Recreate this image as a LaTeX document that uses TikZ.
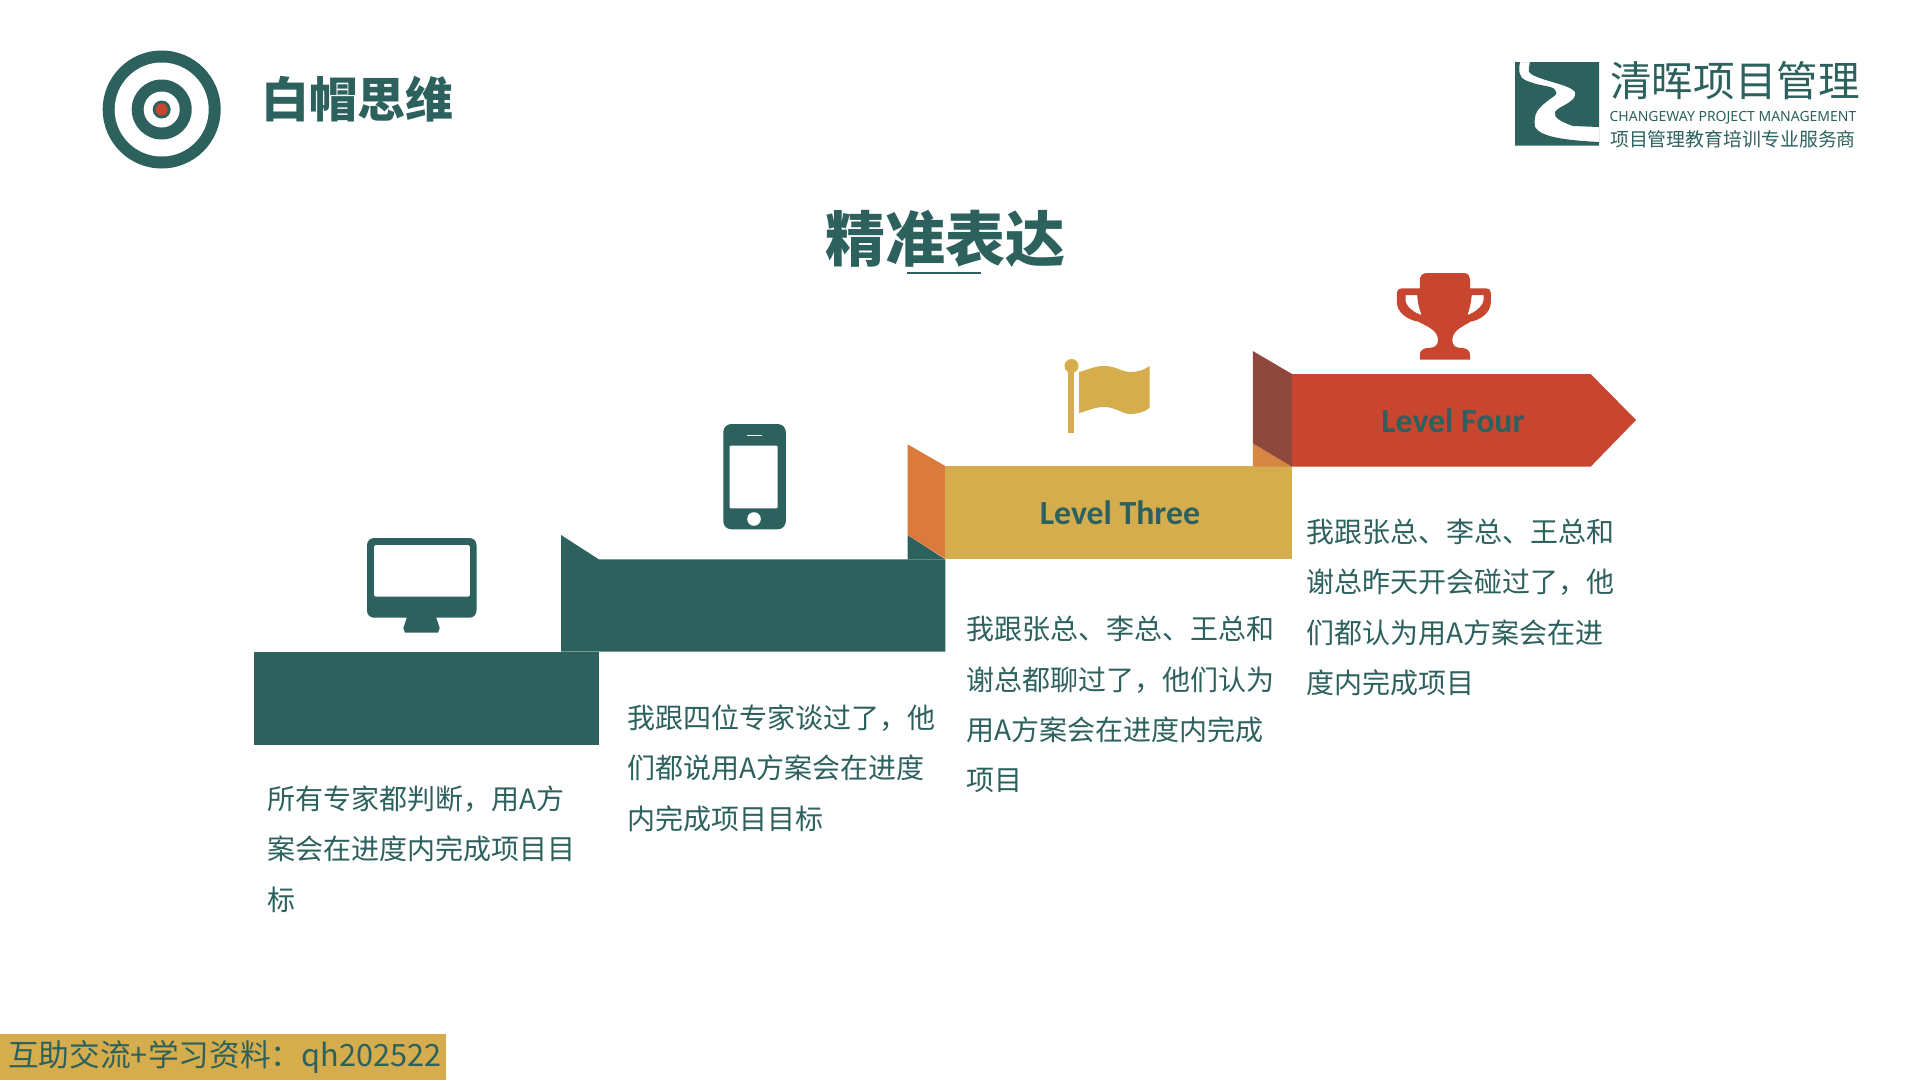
\documentclass[tikz,border=0pt]{standalone}
\usepackage{fontspec}
\usepackage{xcolor}
\usepackage{tikz}
\setmainfont{Noto Sans CJK SC}
\newfontfamily\levelfont{Carlito}
\newfontfamily\logofont{Noto Sans}
\definecolor{stepteal}{RGB}{44, 97, 94}
\definecolor{stepgold}{RGB}{214, 173, 76}
\definecolor{stepred}{RGB}{200, 69, 47}
\definecolor{flaporange}{RGB}{218, 122, 60}
\definecolor{flapdark}{RGB}{142, 72, 60}
\definecolor{flapamber}{RGB}{215, 135, 65}
\tikzset{
    bodytext/.style={anchor=north west, inner sep=0pt, align=left, text=stepteal, font=\fontsize{28}{50.4}\selectfont},
    leveltext/.style={text=stepteal, inner sep=0pt, font=\levelfont\bfseries\fontsize{33.8}{36}\selectfont}
}

\begin{document}
\begin{tikzpicture}[x=1pt, y=-1pt]
    \useasboundingbox (0,0) rectangle (1920,1080);
    \fill[white] (0,0) rectangle (1920,1080);

    % Target
    \fill[stepteal] (161.7,109.5) circle (59);
    \fill[white] (161.7,109.5) circle (47);
    \fill[stepteal] (161.7,109.5) circle (30);
    \fill[white] (161.7,109.5) circle (18);
    \fill[stepteal] (161.7,109.5) circle (9);
    \fill[stepred] (161.7,109.5) circle (6);
    \node[text=stepteal, font=\bfseries\fontsize{48}{50}\selectfont, inner sep=0pt] (brand) at (357,99) {白帽思维};

    % Company logo
    \fill[stepteal, even odd rule] (1515,62) rectangle (1599,145.7)
        (1520,62) .. controls (1518,72) and (1520,78) .. (1525,80)
        .. controls (1540,87) and (1552,85) .. (1555,90)
        .. controls (1558,94) and (1556,95) .. (1550,99)
        .. controls (1538,108) and (1533,113) .. (1535,127)
        .. controls (1540,136) and (1560,140) .. (1599,142)
        -- (1599,127) -- (1573,126)
        .. controls (1562,122) and (1553,118) .. (1555,112)
        .. controls (1558,106) and (1578,102) .. (1575,92)
        .. controls (1570,84) and (1535,80) .. (1529,72)
        .. controls (1528,68) and (1530,65) .. (1530,62) -- cycle;
    \node[text=stepteal, font=\fontsize{41.6}{44}\selectfont, inner sep=0pt] (logoname) at (1735,81) {清晖项目管理};
    \node[text=stepteal, font=\logofont\fontsize{14}{16}\selectfont, inner sep=0pt] (logoen) at (1733,118) {CHANGEWAY PROJECT MANAGEMENT};
    \node[text=stepteal, font=\fontsize{18.9}{20}\selectfont, inner sep=0pt] (logocn) at (1733,139) {项目管理教育培训专业服务商};

    % Title
    \node[text=stepteal, font=\bfseries\fontsize{60}{64}\selectfont, inner sep=0pt] (title) at (945,239) {精准表达};
    \draw[stepteal, line width=1.5pt] (907,273) -- (981,273);

    % Step one
    \fill[stepteal] (253.6,652) rectangle (598.7,745);

    % Step two
    \fill[stepteal] (561,535) -- (598.7,559.3) -- (945.3,559.3) -- (945.3,651.7) -- (561,651.7) -- cycle;
    \fill[stepteal] (907.5,559.3) -- (907.5,535) -- (945.3,559.3) -- cycle;

    % Step three
    \fill[flaporange] (907.5,444.3) -- (945.3,466) -- (945.3,558.7) -- (907.5,535) -- cycle;
    \fill[stepgold] (945.3,466) rectangle (1292,558.7);
    \node[leveltext] (levelthree) at (1120,513) {Level Three};

    % Step four
    \fill[flapamber] (1252.8,443.3) -- (1292,466.7) -- (1252.8,466.7) -- cycle;
    \fill[flapdark] (1252.8,351) -- (1292,374) -- (1292,466.7) -- (1252.8,443.3) -- cycle;
    \fill[stepred] (1292,374) -- (1590.6,374) -- (1636,420) -- (1590.6,466.7) -- (1292,466.7) -- cycle;
    \node[leveltext] (levelfour) at (1453,420.5) {Level Four};

    % Monitor
    \fill[stepteal, rounded corners=7pt] (367,538) rectangle (476.5,617.7);
    \fill[white, rounded corners=1.5pt] (374,545) rectangle (469.8,596.7);
    \fill[stepteal] (407,617) -- (436,617) -- (439.7,628) -- (438,632.7) -- (405,632.7) -- (403.4,628) -- cycle;

    % Phone
    \fill[stepteal, rounded corners=8pt] (723.3,424) rectangle (785.8,529.3);
    \fill[white, rounded corners=1pt] (729.6,445.7) rectangle (777.6,508.3);
    \fill[white] (747,434.6) rectangle (762,436);
    \fill[white] (754,519) circle (6.8);

    % Flag
    \fill[stepgold] (1068,366) rectangle (1074,433);
    \fill[stepgold] (1071.5,366) circle (7);
    \fill[stepgold] (1079,372) .. controls (1088,370) and (1094,366) .. (1104,366)
        .. controls (1116,366) and (1122,372) .. (1130,372)
        .. controls (1138,372) and (1144,370) .. (1149.6,366) -- (1149.6,408)
        .. controls (1144,412) and (1138,414) .. (1130,414)
        .. controls (1122,414) and (1116,407) .. (1104,407)
        .. controls (1094,407) and (1088,411) .. (1079,413) -- cycle;

    % Trophy
    \fill[stepred, even odd rule] (1427,273) -- (1464,273)
        .. controls (1468,273) and (1470,276) .. (1470,281) -- (1470,288.3) -- (1486,288.3)
        .. controls (1489,288.3) and (1490.9,290) .. (1490.9,293) -- (1490.9,301.7)
        .. controls (1490.9,313) and (1480,320) .. (1470.5,321.7)
        .. controls (1464,326) and (1452.3,330) .. (1452.3,340)
        .. controls (1452.3,346) and (1456,348) .. (1462,348)
        .. controls (1467,348) and (1470,351) .. (1470,355) -- (1470,359.7) -- (1419.8,359.7) -- (1419.8,355)
        .. controls (1419.8,351) and (1423,348) .. (1428,348)
        .. controls (1434,348) and (1438,346) .. (1438,340)
        .. controls (1438,330) and (1426,326) .. (1418.5,321.7)
        .. controls (1408,320) and (1396.8,313) .. (1396.8,301.7) -- (1396.8,293)
        .. controls (1396.8,290) and (1399,288.3) .. (1402,288.3) -- (1419.8,288.3) -- (1419.8,281)
        .. controls (1419.8,276) and (1422,273) .. (1427,273) -- cycle
        (1471.8,295) -- (1483.5,295) -- (1483.5,300) .. controls (1483.5,306) and (1474,313) .. (1467.5,315)
        .. controls (1470,308) and (1471,302) .. (1471.8,295) -- cycle
        (1405.5,295) -- (1417.2,295) .. controls (1417.5,302) and (1419,308) .. (1421.5,315)
        .. controls (1414,313) and (1405.5,306) .. (1405.5,300) -- cycle;

    % Texts
    \node[bodytext] (textone) at (267,785.5) {所有专家都判断，用A方\\案会在进度内完成项目目\\标};
    \node[bodytext] (texttwo) at (627,704.5) {我跟四位专家谈过了，他\\们都说用A方案会在进度\\内完成项目目标};
    \node[bodytext] (textthree) at (966,616) {我跟张总、李总、王总和\\谢总都聊过了，他们认为\\用A方案会在进度内完成\\项目};
    \node[bodytext] (textfour) at (1306.5,518.5) {我跟张总、李总、王总和\\谢总昨天开会碰过了，他\\们都认为用A方案会在进\\度内完成项目};

    % Watermark
    \fill[stepgold] (0,1034) rectangle (446,1080);
    \node[text=stepteal, anchor=west, inner sep=0pt, font=\fontsize{30.7}{32}\selectfont] (watermark) at (8,1057) {互助交流+学习资料：qh202522};
\end{tikzpicture}
\end{document}
